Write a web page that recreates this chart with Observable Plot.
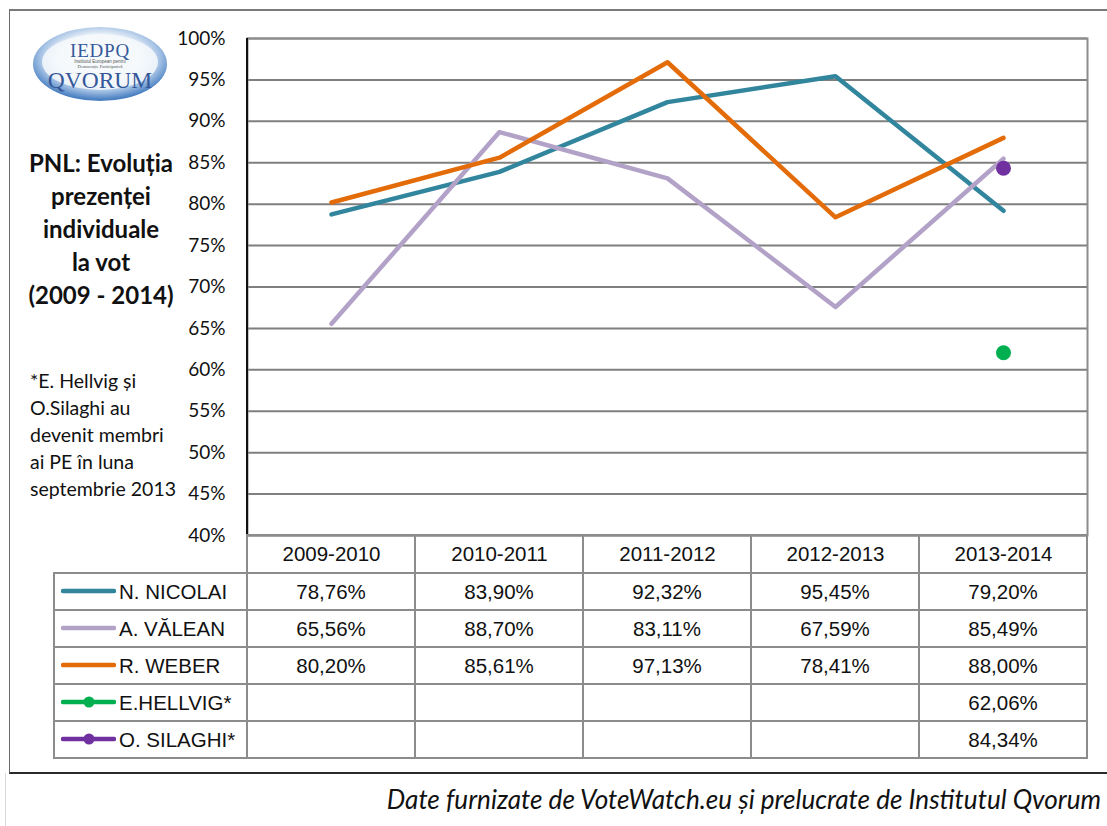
<!DOCTYPE html>
<html>
<head>
<meta charset="utf-8">
<script src="https://cdn.jsdelivr.net/npm/d3@7"></script>
<script src="https://cdn.jsdelivr.net/npm/@observablehq/plot@0.6"></script>
<style>
  html, body { margin: 0; padding: 0; background: #fff; }
  #wrap { position: relative; width: 1107px; height: 826px; overflow: hidden; font-family: Lato, sans-serif; }
  #wrap > * { position: absolute; }
  #frame { left: 9px; top: 9px; width: 1120px; height: 761px; border-top: 2px solid #7a7a7a; border-left: 1.5px solid #6a6a6a; border-bottom: 2px solid #2a2a2a; }
  #faint { left: 5px; top: 773px; width: 1px; height: 60px; background: #d8d8d8; }
  #chart { left: 0; top: 0; }
  #leftaxis { left: 246px; top: 38px; width: 2px; height: 498px; background: #111; }
  #title { left: 8px; top: 146px; width: 186px; text-align: center; font-weight: bold; font-size: 24px; line-height: 33px; color: #111; }
  #note { left: 30px; top: 367px; font-size: 19.5px; line-height: 27px; color: #111; white-space: nowrap; }
  #caption { right: 6px; top: 783px; font-style: italic; font-size: 26.1px; line-height: 33px; color: #111; white-space: nowrap; }
  table#tbl { left: 53px; top: 534px; border-collapse: collapse; table-layout: fixed; font-family: "Liberation Sans", Arial, sans-serif; font-size: 20.5px; color: #111; }
  #tbl td { border: 2px solid #8c8c8c; padding: 0; text-align: center; height: 35px; }
  #tbl tr.head td { height: 36px; }
  #tbl td.blank { border-top: none; border-left: none; }
  #tbl td.leg { text-align: left; padding-left: 6px; white-space: nowrap; }
  #tbl td.leg svg { vertical-align: middle; margin-right: 3px; position: relative; top: -2px; }
</style>
</head>
<body>
<div id="wrap">
  <div id="frame"></div>
  <div id="faint"></div>
  <svg id="logo" width="200" height="120" style="left:0;top:0">
    <defs>
      <radialGradient id="lg" cx="0.5" cy="0.42" r="0.56">
        <stop offset="0" stop-color="#ffffff"/>
        <stop offset="0.55" stop-color="#f2f6fb"/>
        <stop offset="0.8" stop-color="#a3c1e4"/>
        <stop offset="1" stop-color="#4a80c2"/>
      </radialGradient>
    </defs>
    <ellipse cx="100" cy="64" rx="67" ry="37" fill="url(#lg)"/>
    <ellipse cx="100" cy="62" rx="58" ry="28" fill="#f6f9fc" opacity="0.85"/>
    <text x="100" y="57" text-anchor="middle" font-family="Liberation Serif, serif" font-size="19" fill="#35589a" letter-spacing="0.8">IEDPQ</text>
    <text x="100" y="63" text-anchor="middle" font-family="Liberation Sans, sans-serif" font-size="4.5" fill="#555">Institutul European pentru</text>
    <text x="100" y="68" text-anchor="middle" font-family="Liberation Serif, serif" font-size="4.5" fill="#555">Democrație Participativă</text>
    <text x="100" y="88" text-anchor="middle" font-family="Liberation Serif, serif" font-size="23.5" fill="#35589a">QVORUM</text>
  </svg>
  <div id="chart"></div>
  <div id="leftaxis"></div>
  <div id="title">PNL: Evoluția<br>prezenței<br>individuale<br>la vot<br>(2009 - 2014)</div>
  <div id="note">*E. Hellvig și<br>O.Silaghi au<br>devenit membri<br>ai PE în luna<br>septembrie 2013</div>
  <table id="tbl"></table>
  <div id="caption">Date furnizate de VoteWatch.eu și prelucrate de Institutul Qvorum</div>
</div>
<script>
// ---- data ----
const categories = ["2009-2010", "2010-2011", "2011-2012", "2012-2013", "2013-2014"];
const names = ["N. NICOLAI", "A. VĂLEAN", "R. WEBER", "E.HELLVIG*", "O. SILAGHI*"];
const colors = ["#31859c", "#b3a2c7", "#e36c09", "#00b050", "#7030a0"];
const nicolai = [78.76, 83.90, 92.32, 95.45, 79.20];
const valean  = [65.56, 88.70, 83.11, 67.59, 85.49];
const weber   = [80.20, 85.61, 97.13, 78.41, 88.00];
const hellvig = [null, null, null, null, 62.06];
const silaghi = [null, null, null, null, 84.34];
const yTicks = [40, 45, 50, 55, 60, 65, 70, 75, 80, 85, 90, 95, 100];

const seriesValues = [nicolai, valean, weber, hellvig, silaghi];
const lineSeries = [0, 1, 2];
const dotSeries = [3, 4];

const lineRows = lineSeries.flatMap(i => categories.map((c, j) => ({name: names[i], period: c, value: seriesValues[i][j]})));
const dotRows = dotSeries.flatMap(i => categories.map((c, j) => ({name: names[i], period: c, value: seriesValues[i][j]})))
  .filter(d => d.value != null);

const chart = Plot.plot({
  width: 1107,
  height: 575,
  marginLeft: 247,
  marginRight: 20,
  marginTop: 38,
  marginBottom: 40,
  style: {fontFamily: "Lato, sans-serif", fontSize: "19px", background: "transparent", color: "#111", overflow: "visible"},
  x: {type: "point", domain: categories, padding: 0.5},
  y: {domain: [40, 100]},
  color: {domain: names, range: colors},
  marks: [
    Plot.ruleY(yTicks, {stroke: "#7f7f7f", strokeWidth: 2}),
    Plot.frame({stroke: "#8c8c8c", strokeWidth: 2}),
    Plot.axisY({ticks: yTicks, tickFormat: d => d + "%", tickSize: 0, tickPadding: 22, fontSize: 19, label: null}),
    Plot.axisX({tickSize: 0, tickPadding: 11, fontFamily: "Liberation Sans, Arial, sans-serif", fontSize: 20.5, label: null}),
    Plot.line(lineRows, {x: "period", y: "value", z: "name", stroke: "name", strokeWidth: 4.5, strokeLinejoin: "round", strokeLinecap: "round"}),
    Plot.dot(dotRows, {x: "period", y: "value", fill: "name", r: 7.5})
  ]
});
document.getElementById("chart").appendChild(chart);

// ---- data table (legend + values) ----
const fmt = v => v == null ? "" : v.toFixed(2).replace(".", ",") + "%";
const tbl = document.getElementById("tbl");
const colgroup = document.createElement("colgroup");
[193, 168, 168, 168, 168, 168].forEach(w => {
  const c = document.createElement("col"); c.style.width = w + "px"; colgroup.appendChild(c);
});
tbl.appendChild(colgroup);
const head = document.createElement("tr");
head.className = "head";
const blank = document.createElement("td"); blank.className = "blank"; head.appendChild(blank);
categories.forEach(() => { head.appendChild(document.createElement("td")); });
tbl.appendChild(head);
names.forEach((n, i) => {
  const tr = document.createElement("tr");
  const leg = document.createElement("td");
  leg.className = "leg";
  const withDot = dotSeries.includes(i);
  leg.innerHTML = `<svg width="55" height="12"><line x1="2" y1="6" x2="53" y2="6" stroke="${colors[i]}" stroke-width="4.5" stroke-linecap="round"/>${withDot ? `<circle cx="28" cy="6" r="5.5" fill="${colors[i]}"/>` : ""}</svg>`;
  leg.appendChild(document.createTextNode(n));
  tr.appendChild(leg);
  seriesValues[i].forEach(v => {
    const td = document.createElement("td"); td.textContent = fmt(v); tr.appendChild(td);
  });
  tbl.appendChild(tr);
});
</script>
</body>
</html>
